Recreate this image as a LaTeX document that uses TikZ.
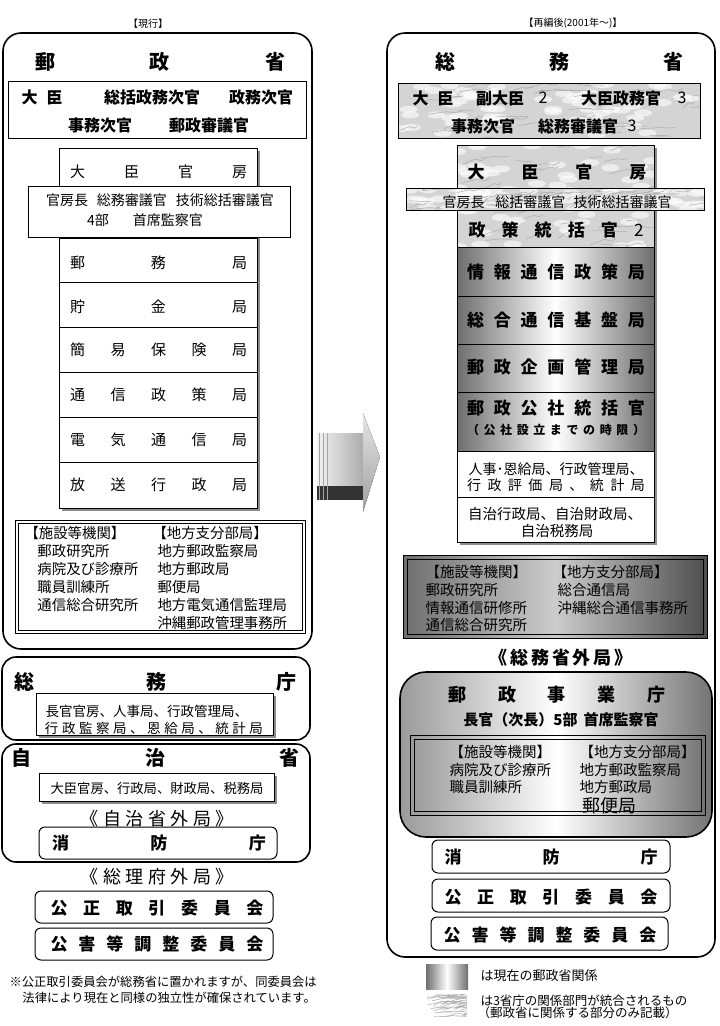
\documentclass[tikz,border=0pt]{standalone}
\usepackage{fontspec}
\setmainfont{Noto Sans CJK JP}
\usetikzlibrary{calc}
\definecolor{shadowgray}{HTML}{8C8C8C}
\definecolor{metaldark}{HTML}{6E6E6E}
\definecolor{marblebg}{HTML}{D4D4D4}
\definecolor{boxgray}{HTML}{9A9A9A}

\newcommand{\fsz}[1]{\fontsize{#1}{#1}\selectfont}
\newcommand{\spreadchars}[2]{\makebox[#1][s]{#2}}
% light grey "marble" panel with random streaks
\newcommand{\marblebox}[4]{%
  \begin{scope}
    \clip (#1,#2) rectangle (#3,#4);
    \fill[marblebg] (#1,#2) rectangle (#3,#4);
    \foreach \k in {1,...,60}{%
      \pgfmathsetmacro{\mx}{#1+rnd*(#3-#1)}%
      \pgfmathsetmacro{\my}{#2+rnd*(#4-#2)}%
      \fill[white, opacity=0.6] (\mx,\my) ellipse (9 and 3.5);
    }%
    \foreach \k in {1,...,45}{%
      \pgfmathsetmacro{\mx}{#1+rnd*(#3-#1)}%
      \pgfmathsetmacro{\my}{#2+rnd*(#4-#2)}%
      \pgfmathsetmacro{\dx}{6+rnd*14}%
      \pgfmathsetmacro{\dy}{-6+rnd*8}%
      \draw[gray!65, line width=0.5pt] (\mx,\my) -- ++(\dx,\dy) -- ++(\dx/2,-\dy/3) -- ++(\dx/3,\dy/2);
    }%
  \end{scope}%
  \draw[line width=1pt] (#1,#2) rectangle (#3,#4);}

\begin{document}
\begin{tikzpicture}[
    x=1pt, y=-1pt,
    line width=1pt,
    every node/.style={inner sep=0pt},
    metal/.style={left color=metaldark, right color=metaldark, middle color=white},
    bigframe/.style={line width=1.6pt, rounded corners=18pt},
    pill/.style={line width=1pt, rounded corners=6pt}
]
    \useasboundingbox (0,0) rectangle (720,1026);
    \pgfmathsetseed{11}

    % ===== Left side: current organisation =====
    \node[font=\fsz{10}] (curHead) at (148,24) {【現行】};

    % Ministry of Posts and Telecommunications
    \draw[bigframe] (3,33) rectangle (312,649);
    \node[font=\fsz{20}\bfseries] (yuseiTitle) at (160,62) {\spreadchars{250pt}{郵\hfill 政\hfill 省}};
    \draw (8,81) rectangle (306,138);
    \node[font=\fsz{16}\bfseries] (oldMin) at (42,97) {大\hspace{9pt}臣};
    \node[font=\fsz{16}\bfseries] (oldSou) at (152,97) {総括政務次官};
    \node[font=\fsz{16}\bfseries] (oldSei) at (261,97) {政務次官};
    \node[font=\fsz{16}\bfseries] (oldJimu) at (100,125) {事務次官};
    \node[font=\fsz{16}\bfseries] (oldShin) at (209,125) {郵政審議官};

    % Bureau column with shadow
    \fill[shadowgray] (62,151) rectangle (260,511);
    \fill[white, draw=black] (59,148) rectangle (257,508);
    \foreach \yl in {238,282,327,372,417,462}
        \draw (59,\yl) -- (257,\yl);
    \node[font=\fsz{15}] (oldKanbo) at (158.5,172) {\spreadchars{177pt}{大\hfill 臣\hfill 官\hfill 房}};
    \foreach \yc/\txt [count=\i] in {
        263/{郵\hfill 務\hfill 局},
        307/{貯\hfill 金\hfill 局},
        350/{簡\hfill 易\hfill 保\hfill 険\hfill 局},
        395/{通\hfill 信\hfill 政\hfill 策\hfill 局},
        440/{電\hfill 気\hfill 通\hfill 信\hfill 局},
        485/{放\hfill 送\hfill 行\hfill 政\hfill 局}}
        \node[font=\fsz{15}] (oldRow\i) at (158.5,\yc) {\spreadchars{177pt}{\txt}};

    % Secretariat officials
    \fill[white, draw=black] (28,186) rectangle (290,237);
    \node[font=\fsz{14}] (oldOff1) at (160,200) {官房長\hspace{9pt}総務審議官\hspace{9pt}技術総括審議官};
    \node[font=\fsz{14}] (oldOff2) at (145,220) {4部\hspace{24pt}首席監察官};

    % Facilities and local offices
    \draw (15,520) rectangle (305,633);
    \draw (18,523) rectangle (302,630);
    \foreach \txt [count=\i] in {【施設等機関】, \hspace{13pt}郵政研究所, \hspace{13pt}病院及び診療所,
        \hspace{13pt}職員訓練所, \hspace{13pt}通信総合研究所}
        \node[font=\fsz{14.4}, anchor=west] (oldFacL\i) at (24,515+18*\i) {\txt};
    \foreach \txt [count=\i] in {【地方支分部局】, \hspace{5pt}地方郵政監察局, \hspace{5pt}地方郵政局,
        \hspace{5pt}郵便局, \hspace{5pt}地方電気通信監理局, \hspace{5pt}沖縄郵政管理事務所}
        \node[font=\fsz{14.4}, anchor=west] (oldFacR\i) at (152,515+18*\i) {\txt};

    % Management and Coordination Agency
    \draw[bigframe, rounded corners=14pt] (2,657) rectangle (310,740);
    \node[font=\fsz{20}\bfseries] (somuchoTitle) at (156,682) {\spreadchars{282pt}{総\hfill 務\hfill 庁}};
    \fill[shadowgray] (39,696) rectangle (276,738);
    \fill[white, draw=black] (36,693) rectangle (273,735);
    \node[font=\fsz{13.5}, anchor=west] (somuchoL1) at (45,711) {長官官房、人事局、行政管理局、};
    \node[font=\fsz{13.5}] (somuchoL2) at (154,728) {\spreadchars{218pt}{行\hfill 政\hfill 監\hfill 察\hfill 局\hfill 、\hfill 恩\hfill 給\hfill 局\hfill 、\hfill 統\hfill 計\hfill 局}};

    % Ministry of Home Affairs
    \draw[bigframe, rounded corners=14pt] (2,744) rectangle (310,862);
    \node[font=\fsz{20}\bfseries] (jichiTitle) at (156,758) {\spreadchars{288pt}{自\hfill 治\hfill 省}};
    \fill[shadowgray] (42,776) rectangle (277,804);
    \fill[white, draw=black] (39,773) rectangle (274,801);
    \node[font=\fsz{13.3}] (jichiBur) at (157,788) {大臣官房、行政局、財政局、税務局};
    \node[font=\fsz{18}] (jichiExt) at (157,819) {\spreadchars{153pt}{《\hfill 自\hfill 治\hfill 省\hfill 外\hfill 局\hfill 》}};
    \draw[pill] (39,827) rectangle (277,859);
    \node[font=\fsz{17}\bfseries] (oldFire) at (159,843) {\spreadchars{214pt}{消\hfill 防\hfill 庁}};

    % Prime Minister's Office external bodies
    \node[font=\fsz{18}] (sorifuExt) at (157,877) {\spreadchars{153pt}{《\hfill 総\hfill 理\hfill 府\hfill 外\hfill 局\hfill 》}};
    \draw[pill] (35,891) rectangle (273,923);
    \node[font=\fsz{17}\bfseries] (oldFTC) at (157,908) {\spreadchars{213pt}{公\hfill 正\hfill 取\hfill 引\hfill 委\hfill 員\hfill 会}};
    \draw[pill] (35,928) rectangle (273,960);
    \node[font=\fsz{17}\bfseries] (oldEDC) at (157,944) {\spreadchars{213pt}{公\hfill 害\hfill 等\hfill 調\hfill 整\hfill 委\hfill 員\hfill 会}};

    % Footnote
    \node[font=\fsz{12.3}, anchor=west] (note1) at (9,982) {※公正取引委員会が総務省に置かれますが、同委員会は};
    \node[font=\fsz{12.3}, anchor=west] (note2) at (22,998) {法律により現在と同様の独立性が確保されています。};

    % ===== Transition arrow =====
    \fill[left color=gray!10, right color=gray!65] (317,433) rectangle (363,486);
    \fill[gray!40!black] (317,486) rectangle (363,500);
    \foreach \xs in {319,323,327}
        \draw[gray!70, line width=1pt] (\xs,433) -- (\xs,500);
    \fill[top color=gray!20, bottom color=gray!75] (363,413) -- (380,457) -- (363,512) -- cycle;

    % ===== Right side: after reorganisation =====
    \node[font=\fsz{10}] (newHead) at (573,23) {【再編後(2001年～)】};
    \draw[bigframe] (387,33) rectangle (715,957);
    \node[font=\fsz{20}\bfseries] (somushoTitle) at (559,62) {\spreadchars{248pt}{総\hfill 務\hfill 省}};

    % Top officials (marble)
    \marblebox{398}{83}{700}{138}
    \node[font=\fsz{16}\bfseries] (newMin) at (433,98) {大\hspace{9pt}臣};
    \node[font=\fsz{16}\bfseries] (newFuku) at (500,98) {副大臣};
    \node[font=\fsz{16}] (newFukuN) at (543,98) {2};
    \node[font=\fsz{16}\bfseries] (newSeimu) at (621,98) {大臣政務官};
    \node[font=\fsz{16}] (newSeimuN) at (682,98) {3};
    \node[font=\fsz{16}\bfseries] (newJimu) at (483,126) {事務次官};
    \node[font=\fsz{16}\bfseries] (newShin) at (578,126) {総務審議官};
    \node[font=\fsz{16}] (newShinN) at (632,126) {3};

    % Bureau column with shadow
    \fill[shadowgray] (460,148) rectangle (657,545);
    \marblebox{457}{145}{654}{247}
    \node[font=\fsz{17}\bfseries] (newKanbo) at (557,172) {\spreadchars{179pt}{大\hfill 臣\hfill 官\hfill 房}};
    \node[font=\fsz{17}\bfseries] (newToukatsu) at (556,230) {\spreadchars{175pt}{政\hfill 策\hfill 統\hfill 括\hfill 官\hfill \mdseries 2}};
    \marblebox{406}{188}{704}{210}
    \node[font=\fsz{14}] (newOff) at (557,202) {官房長\hspace{11pt}総括審議官\hspace{8pt}技術総括審議官};

    % Bureaus coming from the postal ministry (metal)
    \foreach \ya/\yb in {247/296, 296/344, 344/392, 392/451}
        \draw[metal] (457,\ya) rectangle (654,\yb);
    \foreach \yc/\txt [count=\i] in {
        272/{情\hfill 報\hfill 通\hfill 信\hfill 政\hfill 策\hfill 局},
        320/{総\hfill 合\hfill 通\hfill 信\hfill 基\hfill 盤\hfill 局},
        367/{郵\hfill 政\hfill 企\hfill 画\hfill 管\hfill 理\hfill 局},
        408/{郵\hfill 政\hfill 公\hfill 社\hfill 統\hfill 括\hfill 官}}
        \node[font=\fsz{17}\bfseries] (newRow\i) at (556,\yc) {\spreadchars{178pt}{\txt}};
    \node[font=\fsz{12}\bfseries] (newLimit) at (556,430) {\spreadchars{178pt}{（\hfill 公\hfill 社\hfill 設\hfill 立\hfill ま\hfill で\hfill の\hfill 時\hfill 限\hfill ）}};

    % Other merged bureaus
    \draw[fill=white] (457,451) rectangle (654,497);
    \draw[fill=white] (457,497) rectangle (654,542);
    \node[font=\fsz{14}] (newBur1) at (556,469) {人事･恩給局、行政管理局、};
    \node[font=\fsz{14}] (newBur2) at (556,485) {\spreadchars{178pt}{行\hfill 政\hfill 評\hfill 価\hfill 局\hfill 、\hfill 統\hfill 計\hfill 局}};
    \node[font=\fsz{14.5}] (newBur3) at (555,514) {自治行政局、自治財政局、};
    \node[font=\fsz{14.5}] (newBur4) at (557,531) {自治税務局};

    % Facilities and local offices
    \draw[left color=metaldark, right color=metaldark!70!black, middle color=gray!40] (403,555) rectangle (707,638);
    \draw (407,559) rectangle (703,634);
    \foreach \txt/\yc [count=\i] in {【施設等機関】/572, 郵政研究所/590, 情報通信研修所/608, 通信総合研究所/625}
        \node[font=\fsz{14.5}, anchor=west] (newFacL\i) at (425,\yc) {\txt};
    \foreach \txt/\xc/\yc [count=\i] in {【地方支分部局】/552/572, 総合通信局/557/590, 沖縄総合通信事務所/557/608}
        \node[font=\fsz{14.5}, anchor=west] (newFacR\i) at (\xc,\yc) {\txt};

    % External agencies
    \node[font=\fsz{18}\bfseries] (somuExt) at (561,658) {\spreadchars{143pt}{《\hfill 総\hfill 務\hfill 省\hfill 外\hfill 局\hfill 》}};
    \draw[line width=1.6pt, rounded corners=26pt, left color=boxgray, right color=boxgray!75!black, middle color=white] (400,672) rectangle (712,837);
    \node[font=\fsz{18}\bfseries] (postAgency) at (557,695) {\spreadchars{217pt}{郵\hfill 政\hfill 事\hfill 業\hfill 庁}};
    \node[font=\fsz{15}\bfseries] (postChief) at (561,720) {長官（次長）5部\hspace{6pt}首席監察官};
    \draw[left color=boxgray, right color=boxgray!75!black, middle color=white] (410,735) rectangle (705,815);
    \draw (414,739) rectangle (701,811);
    \foreach \txt/\yc [count=\i] in {【施設等機関】/752, 病院及び診療所/770, 職員訓練所/787}
        \node[font=\fsz{14.5}, anchor=west] (postFacL\i) at (449,\yc) {\txt};
    \foreach \txt/\yc [count=\i] in {【地方支分部局】/752, 地方郵政監察局/770, 地方郵政局/787}
        \node[font=\fsz{14.5}, anchor=west] (postFacR\i) at (579,\yc) {\txt};
    \node[font=\fsz{18}, anchor=west] (postOffice) at (582,806) {郵便局};

    \draw[pill] (432,840) rectangle (670,873);
    \node[font=\fsz{17}\bfseries] (newFire) at (551,857) {\spreadchars{213pt}{消\hfill 防\hfill 庁}};
    \draw[pill] (432,879) rectangle (670,912);
    \node[font=\fsz{17}\bfseries] (newFTC) at (551,897) {\spreadchars{213pt}{公\hfill 正\hfill 取\hfill 引\hfill 委\hfill 員\hfill 会}};
    \draw[pill] (431,917) rectangle (668,950);
    \node[font=\fsz{17}\bfseries] (newEDC) at (550,935) {\spreadchars{213pt}{公\hfill 害\hfill 等\hfill 調\hfill 整\hfill 委\hfill 員\hfill 会}};

    % Legend
    \fill[metal] (426,964) rectangle (468,989);
    \node[font=\fsz{13}, anchor=west] (legMetal) at (480,976) {は現在の郵政省関係};
    \marblebox{426}{993}{468}{1018}
    \draw[white, line width=1.2pt] (426,993) rectangle (468,1018);
    \node[font=\fsz{12.5}, anchor=west] (legMarble1) at (480,1001) {は3省庁の関係部門が統合されるもの};
    \node[font=\fsz{12.5}, anchor=west] (legMarble2) at (477,1013) {（郵政省に関係する部分のみ記載）};

\end{tikzpicture}
\end{document}
